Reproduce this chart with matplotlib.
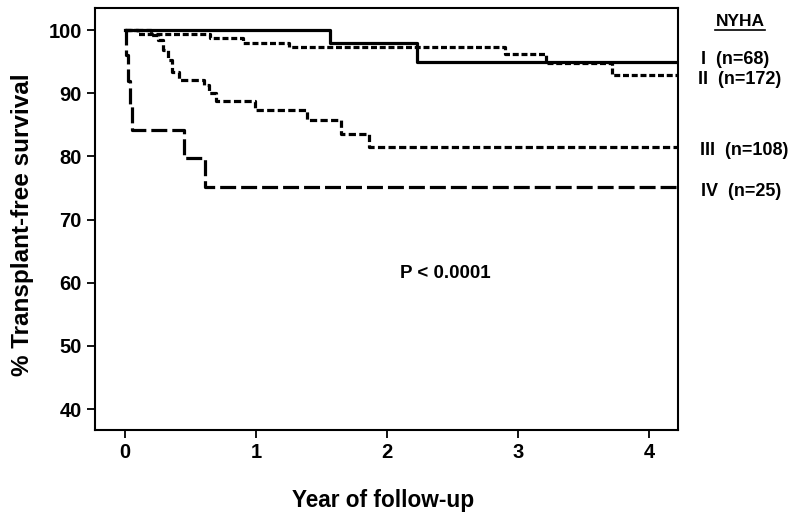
"""
Courbes de survie sans transplantation selon la classe NYHA.
"""
import matplotlib
matplotlib.use("Agg")
import matplotlib.pyplot as plt
from matplotlib.lines import Line2D

# Données (années, % de survie)
t_I = [0, 1.56, 2.23, 4.22]
s_I = [100, 97.9, 95.0, 95.0]

t_II = [0, 0.1, 0.65, 0.9, 1.25, 2.9, 3.21, 3.72, 4.22]
s_II = [100, 99.4, 98.8, 98.0, 97.4, 96.2, 94.8, 92.9, 92.9]

t_III = [0, 0.2, 0.25, 0.29, 0.33, 0.36, 0.41, 0.60, 0.64, 0.69,
         0.99, 1.39, 1.65, 1.86, 4.22]
s_III = [100, 99.3, 98.4, 96.8, 95.3, 93.4, 92.1, 91.3, 90.0, 88.7,
         87.3, 85.8, 83.6, 81.5, 81.5]

t_IV = [0, 0.01, 0.025, 0.04, 0.055, 0.45, 0.61, 4.22]
s_IV = [100, 96, 92, 88, 84.2, 79.7, 75.2, 75.2]

group_labels = ["I  (n=68)", "II  (n=172)", "III  (n=108)", "IV  (n=25)"]
x_ticks = [0, 1, 2, 3, 4]
y_ticks = [40, 50, 60, 70, 80, 90, 100]

plt.rcParams['font.family'] = ['Liberation Sans', 'DejaVu Sans']
plt.rcParams['lines.scale_dashes'] = False

W, H = 795, 516
fig = plt.figure(figsize=(W / 100, H / 100), dpi=100)
ax = fig.add_axes([95 / W, 1 - 430 / H, (678 - 95) / W, (430 - 8) / H])

lw = 2.3
ax.step(t_I, s_I, where='post', color='black', lw=lw, linestyle='-')
ax.step(t_II, s_II, where='post', color='black', lw=lw,
        linestyle=(0, (4.3, 2.0)))
ax.step(t_III, s_III, where='post', color='black', lw=lw,
        linestyle=(0, (5.2, 2.4)))
ax.step(t_IV, s_IV, where='post', color='black', lw=lw,
        linestyle=(0, (11.5, 3.6)))

ax.set_xlim(-0.23, 4.22)
ax.set_ylim(36.7, 103.5)
ax.set_xticks(x_ticks)
ax.set_yticks(y_ticks)
ax.tick_params(direction='out', length=5.5, width=1.3, pad=4,
               labelsize=14.5)
for lab in ax.get_xticklabels() + ax.get_yticklabels():
    lab.set_fontweight('bold')
for sp in ax.spines.values():
    sp.set_linewidth(1.5)

# Titres des axes
fig.text(383 / W, 1 - 500 / H, "Year of follow-up", ha='center',
         va='center', fontsize=16.3, fontweight='bold')
fig.text(23 / W, 1 - 225 / H, "% Transplant-free survival", ha='center',
         va='center', rotation=90, fontsize=17.5, fontweight='bold')

# Valeur p
fig.text(445 / W, 1 - 273 / H, "P < 0.0001", ha='center', va='center',
         fontsize=13.5, fontweight='bold')

# Légende à droite
fig.text(740 / W, 1 - 21 / H, "NYHA", ha='center', va='center',
         fontsize=12.5, fontweight='bold')
fig.add_artist(Line2D([715 / W, 765 / W], [1 - 29.5 / H, 1 - 29.5 / H],
                      color='black', lw=1.2))
label_pos = [(701, 59), (698, 79), (700, 150), (701, 192)]
for txt, (px, py) in zip(group_labels, label_pos):
    fig.text(px / W, 1 - py / H, txt, ha='left', va='center',
             fontsize=13, fontweight='bold')

fig.savefig("out.png", dpi=100)
